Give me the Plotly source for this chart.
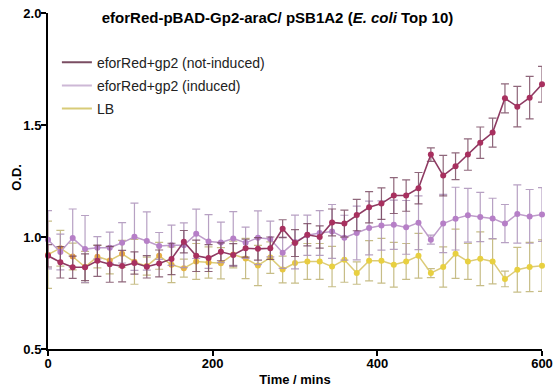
import plotly.graph_objects as go

time_mins = [0, 15, 30, 45, 60, 75, 90, 105, 120, 135, 150, 165, 180, 195, 210, 225, 240, 255, 270, 285,
             300, 315, 330, 345, 360, 375, 390, 405, 420, 435, 450, 465, 480, 495, 510, 525, 540, 555, 570, 585, 600]

not_induced = [0.916, 0.887, 0.865, 0.865, 0.894, 0.878, 0.870, 0.884, 0.867, 0.882, 0.902, 0.979, 0.916, 0.906,
               0.934, 0.920, 0.950, 0.947, 0.950, 1.037, 0.973, 1.010, 1.000, 1.065, 1.060, 1.098, 1.133, 1.149,
               1.185, 1.185, 1.218, 1.368, 1.274, 1.316, 1.368, 1.421, 1.466, 1.619, 1.582, 1.622, 1.682]
not_induced_err = [0.05, 0.07, 0.05, 0.06, 0.07, 0.08, 0.07, 0.05, 0.05, 0.06, 0.07, 0.05, 0.07, 0.06, 0.04, 0.05,
                   0.04, 0.05, 0.05, 0.04, 0.06, 0.05, 0.05, 0.06, 0.06, 0.07, 0.07, 0.07, 0.08, 0.07, 0.07, 0.03,
                   0.09, 0.06, 0.07, 0.07, 0.065, 0.065, 0.09, 0.095, 0.08]

induced = [0.988, 0.933, 0.995, 0.946, 0.952, 0.952, 0.974, 1.001, 0.982, 0.960, 0.963, 0.963, 1.014, 0.980,
           0.976, 0.993, 0.974, 0.997, 0.991, 0.930, 0.978, 1.008, 1.018, 1.025, 0.997, 1.018, 1.040, 1.051,
           1.055, 1.043, 1.064, 0.988, 1.060, 1.082, 1.097, 1.089, 1.083, 1.060, 1.103, 1.092, 1.100]
induced_err = [0.13, 0.08, 0.13, 0.15, 0.05, 0.07, 0.09, 0.15, 0.13, 0.06, 0.09, 0.10, 0.11, 0.12, 0.09, 0.12,
               0.07, 0.12, 0.08, 0.07, 0.12, 0.09, 0.10, 0.12, 0.10, 0.12, 0.12, 0.11, 0.11, 0.12, 0.12, 0.02,
               0.13, 0.14, 0.12, 0.11, 0.09, 0.085, 0.13, 0.12, 0.12]

lb = [0.921, 0.950, 0.913, 0.866, 0.912, 0.895, 0.925, 0.889, 0.870, 0.916, 0.876, 0.861, 0.891, 0.886, 0.883,
      0.922, 0.904, 0.873, 0.908, 0.855, 0.884, 0.891, 0.891, 0.868, 0.898, 0.839, 0.894, 0.894, 0.876, 0.891,
      0.916, 0.839, 0.866, 0.925, 0.891, 0.903, 0.891, 0.813, 0.854, 0.866, 0.872]
lb_err = [0.15, 0.08, 0.06, 0.07, 0.05, 0.06, 0.06, 0.10, 0.04, 0.06, 0.08, 0.04, 0.08, 0.07, 0.07, 0.06, 0.09,
          0.09, 0.07, 0.06, 0.09, 0.08, 0.08, 0.09, 0.10, 0.05, 0.09, 0.10, 0.10, 0.08, 0.10, 0.02, 0.09, 0.11,
          0.08, 0.12, 0.10, 0.035, 0.10, 0.11, 0.115]

series_names = ["eforRed+gp2 (not-induced)", "eforRed+gp2 (induced)", "LB"]
x_ticks = [0, 200, 400, 600]
y_ticks = [0.5, 1.0, 1.5, 2.0]
y_tick_labels = ["0.5", "1.0", "1.5", "2.0"]

# marker colour ramp for LB (orange early -> yellow late)
n = len(time_mins)
c0, c1 = (228, 150, 70), (232, 208, 64)
lb_marker_colors = [
    "rgb(%d,%d,%d)" % tuple(round(a + (b - a) * min(1, i / (n * 0.55))) for a, b in zip(c0, c1))
    for i in range(n)
]

FONT = "Liberation Sans, Arial, sans-serif"

fig = go.Figure()

# draw order: LB (bottom), induced, not-induced (top)
fig.add_trace(go.Scatter(
    x=time_mins, y=lb, mode="lines+markers", showlegend=False,
    line=dict(color="#DCCB78", width=1.5),
    marker=dict(color=lb_marker_colors, size=6),
    error_y=dict(type="data", array=lb_err, color="rgba(185,172,105,0.8)", thickness=1.2, width=4),
    cliponaxis=False,
))
fig.add_trace(go.Scatter(
    x=time_mins, y=induced, mode="lines+markers", showlegend=False,
    line=dict(color="#BE9CCA", width=1.5),
    marker=dict(color="#B67FC7", size=6),
    error_y=dict(type="data", array=induced_err, color="rgba(170,145,185,0.85)", thickness=1.2, width=4),
    cliponaxis=False,
))
fig.add_trace(go.Scatter(
    x=time_mins, y=not_induced, mode="lines+markers", showlegend=False,
    line=dict(color="#8E3A62", width=1.6),
    marker=dict(color="#A8305F", size=6),
    error_y=dict(type="data", array=not_induced_err, color="rgba(115,65,90,0.8)", thickness=1.2, width=4),
    cliponaxis=False,
))

# legend entries (line only)
legend_colors = ["#7A4D62", "#CDB8D6", "#D8CB78"]
for i, (name, col) in enumerate(zip(series_names, legend_colors)):
    fig.add_trace(go.Scatter(
        x=[None], y=[None], mode="lines", name=name, legendgroup=str(i),
        line=dict(color=col, width=2),
    ))

fig.update_layout(
    width=555, height=389,
    margin=dict(l=48, r=13, t=13, b=40),
    paper_bgcolor="white", plot_bgcolor="white",
    font=dict(family=FONT, color="black"),
    title=dict(
        text="<b>eforRed-pBAD-Gp2-araC/ pSB1A2 (<i>E. coli</i> Top 10)</b>",
        x=0.5, xanchor="center", y=0.955, yanchor="middle",
        font=dict(size=15, family=FONT, color="black"),
    ),
    legend=dict(
        x=0.018, y=0.9, xanchor="left", yanchor="top",
        bgcolor="rgba(0,0,0,0)", font=dict(size=14, family=FONT, color="#222"),
        traceorder="grouped", tracegroupgap=2,
    ),
    showlegend=True,
    xaxis=dict(
        range=[0, 600], tickvals=x_ticks, ticktext=[str(v) for v in x_ticks],
        showgrid=False, zeroline=False, showline=True, linewidth=2, linecolor="black",
        ticks="outside", ticklen=5, tickwidth=2, tickcolor="black", automargin=False,
        tickfont=dict(size=13, weight="bold", family=FONT), ticklabelstandoff=-4,
        title=dict(text="<b>Time / mins</b>", font=dict(size=13, family=FONT), standoff=5),
    ),
    yaxis=dict(
        range=[0.5, 2.0], tickvals=y_ticks, ticktext=y_tick_labels,
        showgrid=False, zeroline=False, showline=True, linewidth=2, linecolor="black",
        ticks="outside", ticklen=5, tickwidth=2, tickcolor="black", automargin=False,
        tickfont=dict(size=13, weight="bold", family=FONT), ticklabelstandoff=-3,
    ),
    annotations=[dict(
        text="<b>O.D.</b>", textangle=-90, xref="paper", yref="paper",
        x=-0.063, y=0.512, xanchor="center", yanchor="middle", showarrow=False,
        font=dict(size=13, family=FONT, color="black"),
    )],
)

fig.write_html("out.html", config={"displayModeBar": False},
               post_script="document.body.style.margin='0';")
